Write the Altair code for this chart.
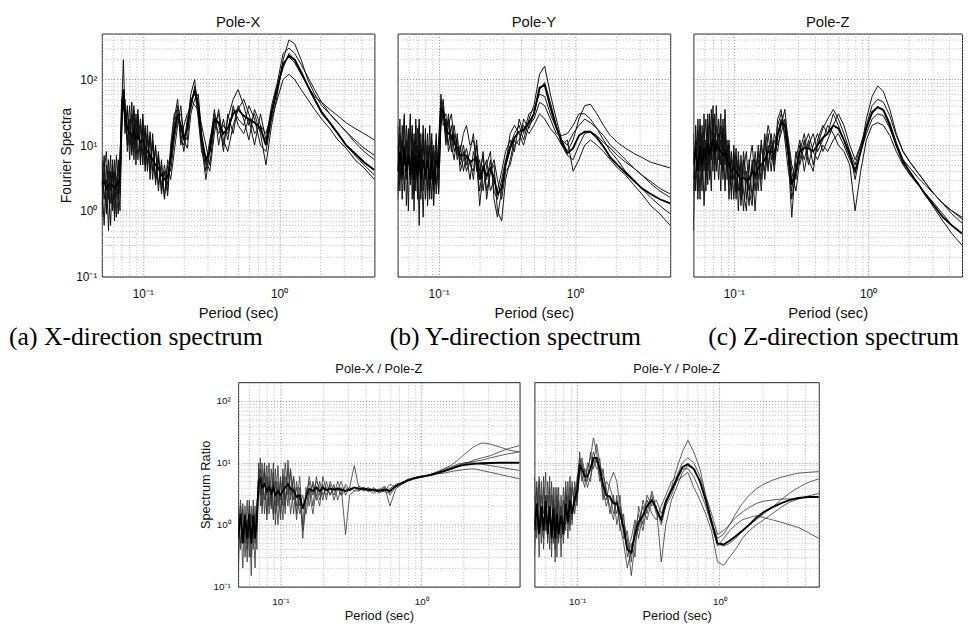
import altair as alt
import pandas as pd

# ---------------- data ----------------
PERIOD = [0.050, 0.052, 0.054, 0.056, 0.058, 0.060, 0.062, 0.064, 0.066, 0.068,
          0.070, 0.072, 0.074, 0.077, 0.080, 0.083, 0.086, 0.089, 0.092, 0.096,
          0.100, 0.104, 0.108, 0.113, 0.118, 0.124, 0.130, 0.137, 0.144, 0.152,
          0.160, 0.170, 0.180, 0.190, 0.200, 0.212, 0.225, 0.240, 0.255, 0.270,
          0.290, 0.310, 0.335, 0.360, 0.390, 0.420, 0.460, 0.500, 0.550, 0.600,
          0.660, 0.730, 0.800, 0.880, 0.970, 1.07, 1.18, 1.30, 1.45, 1.62,
          1.82, 2.05, 2.35, 2.70, 3.10, 3.60, 4.20, 5.00]

# Pole-X Fourier spectra (5 records + mean)
PX_1 = [3, 0.6, 5, 1.5, 7, 1, 4, 0.8, 6, 2.5, 40, 200, 30, 10, 25, 7, 35, 9, 30, 6,
        25, 5, 20, 4, 15, 3, 8, 2, 5, 2.5, 8, 25, 50, 15, 8, 20, 60, 100, 30, 10,
        3, 8, 30, 20, 10, 25, 50, 70, 40, 20, 30, 15, 5, 20, 60, 200, 400, 350, 200, 100,
        60, 40, 30, 22, 16, 11, 8, 6]
PX_2 = [1.2, 5, 0.9, 6, 2, 4, 0.7, 3, 1.5, 8, 20, 60, 15, 40, 6, 30, 10, 25, 6, 20,
        5, 18, 4, 14, 3, 10, 2, 6, 1.5, 5, 3, 8, 20, 40, 12, 9, 30, 50, 60, 15,
        6, 4, 15, 35, 12, 8, 20, 35, 50, 30, 15, 20, 10, 35, 80, 150, 250, 200, 130, 80,
        55, 45, 35, 28, 22, 18, 15, 12]
PX_3 = [6, 1.5, 3, 0.5, 4, 1.2, 6, 2, 0.9, 5, 30, 35, 50, 8, 20, 12, 40, 5, 25, 8,
        30, 6, 15, 3, 12, 2.5, 7, 1.8, 4, 2, 10, 30, 35, 12, 10, 25, 45, 70, 25, 8,
        5, 12, 25, 15, 20, 15, 35, 25, 20, 40, 25, 10, 8, 25, 50, 100, 120, 100, 70, 50,
        35, 25, 18, 12, 9, 6, 4.5, 3]
PX_4 = [0.8, 4, 8, 2, 0.6, 5, 1.5, 7, 2.5, 1, 15, 70, 20, 35, 10, 45, 6, 30, 12, 25,
        7, 20, 5, 16, 4, 9, 2.5, 5, 1.6, 6, 4, 12, 25, 30, 15, 12, 50, 40, 35, 20,
        10, 5, 20, 30, 8, 30, 15, 40, 25, 12, 35, 20, 15, 30, 70, 180, 220, 180, 120, 80,
        50, 30, 22, 15, 10, 7, 5, 3.5]
PX_5 = [2.5, 7, 1, 4, 1.3, 6, 0.9, 3, 5, 1.8, 50, 45, 25, 12, 40, 8, 20, 10, 35, 5,
        18, 4, 12, 6, 10, 3, 6, 2.5, 4, 1.7, 7, 20, 40, 10, 20, 30, 35, 80, 45, 12,
        4, 10, 35, 10, 25, 12, 40, 20, 15, 25, 10, 30, 12, 40, 90, 250, 300, 250, 170, 110,
        70, 45, 30, 22, 16, 12, 9, 7]
PX_MEAN = [2.5, 2.8, 2.2, 2.5, 2.6, 2.4, 2.2, 2.5, 2.6, 3.2, 35, 70, 28, 18, 15, 14, 16, 13, 14, 11,
           12, 9, 8, 7, 6, 5, 4.5, 3.5, 3, 3.2, 6, 16, 30, 20, 12, 18, 45, 65, 40, 12,
           6, 8, 25, 22, 15, 18, 30, 35, 28, 25, 22, 18, 10, 30, 75, 170, 230, 200, 130, 80,
           50, 32, 22, 15, 10, 7.5, 5.5, 4.2]

# Pole-Y Fourier spectra
PY_1 = [2, 15, 3, 25, 4, 18, 2.5, 10, 1, 12, 3, 20, 2, 15, 3, 10, 1.5, 8, 2, 12,
        3, 30, 50, 15, 25, 8, 15, 6, 10, 4, 7, 3, 8, 5, 2, 5, 3, 6, 2, 1.5,
        3, 6, 10, 15, 20, 12, 25, 40, 120, 160, 60, 25, 12, 8, 12, 25, 40, 42, 30, 20,
        14, 11, 9, 7.5, 6.5, 5.5, 5, 4.5]
PY_2 = [10, 2, 20, 5, 12, 1, 25, 3, 15, 2, 18, 4, 10, 0.8, 12, 2, 20, 3, 10, 1.8,
        8, 45, 25, 30, 10, 20, 8, 12, 5, 8, 4, 6, 3, 10, 4, 7, 2, 4, 5, 1,
        0.7, 3, 6, 12, 10, 25, 18, 30, 70, 90, 45, 20, 10, 7, 6, 10, 15, 16, 14, 11,
        9, 7, 5.5, 4.5, 3.5, 2.8, 2.2, 1.8]
PY_3 = [4, 25, 1.5, 10, 3, 15, 4, 20, 2, 25, 1.5, 12, 3, 20, 1.5, 8, 3, 15, 1.2, 8,
        2, 20, 35, 10, 20, 30, 12, 7, 8, 15, 20, 10, 12, 6, 1.2, 4, 6, 2, 3, 2,
        4, 8, 12, 8, 25, 15, 30, 35, 60, 55, 30, 18, 12, 10, 15, 20, 25, 22, 18, 14,
        10, 8, 6, 4.5, 3.5, 2.6, 2, 1.6]
PY_4 = [1.5, 6, 12, 2, 20, 5, 30, 1.5, 12, 3, 10, 0.6, 15, 2, 18, 1.2, 10, 1.5, 8, 2.5,
        12, 60, 20, 25, 8, 12, 20, 8, 6, 10, 5, 8, 15, 4, 6, 2, 5, 8, 1.5, 0.8,
        2, 5, 15, 20, 15, 10, 20, 25, 45, 40, 25, 15, 14, 15, 20, 30, 30, 25, 18, 12,
        8, 6, 4, 3, 2.2, 1.6, 1.2, 0.9]
PY_5 = [20, 3, 8, 30, 1.2, 10, 3, 15, 4, 20, 2.5, 25, 1.5, 10, 4, 15, 2, 12, 3, 15,
        1.8, 25, 40, 12, 30, 10, 6, 15, 4, 6, 9, 5, 4, 12, 3, 8, 1.5, 4, 6, 3,
        1.5, 4, 5, 10, 12, 20, 15, 20, 30, 25, 18, 14, 10, 12, 4, 6, 10, 12, 10, 8,
        6, 4.5, 3.5, 2.5, 1.8, 1.2, 0.9, 0.6]
PY_MEAN = [4, 8, 3.5, 9, 4, 7, 3.5, 8, 3, 7, 3.5, 8, 3, 6, 3.5, 6, 3, 6, 2.5, 6,
           4.5, 35, 32, 18, 15, 14, 11, 9, 7, 7, 7, 5.5, 6, 6.5, 3, 4.5, 3.5, 4.5, 3.2, 1.8,
           2.2, 5, 9, 13, 16, 17, 22, 30, 75, 82, 38, 19, 11, 7.5, 9, 14, 16, 16, 13, 9.5,
           6.5, 5, 3.8, 2.9, 2.2, 1.8, 1.5, 1.3]

# Pole-Z Fourier spectra
PZ_1 = [3, 12, 2, 20, 3, 10, 25, 4, 30, 6, 40, 5, 20, 8, 30, 3, 15, 4, 10, 2,
        6, 1.5, 8, 2, 6, 1.5, 5, 10, 3, 8, 2, 12, 4, 15, 6, 20, 30, 20, 8, 1.5,
        4, 10, 6, 12, 5, 10, 18, 25, 35, 25, 15, 8, 3, 8, 25, 55, 80, 65, 35, 15,
        8, 5.5, 3.8, 2.6, 1.8, 1.3, 0.9, 0.65]
PZ_2 = [15, 2, 25, 4, 15, 1.2, 6, 20, 3, 35, 8, 15, 4, 25, 5, 18, 2, 12, 2.5, 8,
        1.5, 7, 2, 5, 1, 4, 2, 1.2, 6, 2, 10, 4, 15, 6, 12, 8, 20, 35, 10, 4,
        2, 6, 12, 5, 10, 15, 8, 12, 20, 30, 20, 10, 6, 10, 20, 40, 50, 45, 28, 14,
        8, 5.5, 3.8, 2.6, 1.8, 1.3, 1.0, 0.75]
PZ_3 = [0.5, 20, 4, 10, 2, 30, 3, 15, 8, 2, 25, 3, 40, 6, 12, 4, 20, 3, 8, 1.5,
        10, 2, 6, 1.2, 4, 8, 2, 5, 1, 6, 3, 15, 5, 10, 4, 15, 25, 15, 6, 0.8,
        6, 12, 4, 10, 15, 8, 12, 20, 15, 10, 8, 5, 1, 4, 12, 20, 22, 20, 14, 8,
        5, 3.5, 2.5, 1.8, 1.3, 0.9, 0.6, 0.45]
PZ_4 = [8, 3, 15, 1.5, 20, 4, 12, 2.5, 25, 10, 4, 30, 8, 15, 2, 25, 5, 10, 1.5, 6,
        3, 9, 1, 7, 2, 1, 6, 1.5, 8, 3, 12, 3, 10, 4, 15, 10, 15, 25, 12, 5,
        3, 8, 15, 6, 4, 12, 20, 15, 30, 20, 12, 8, 5, 10, 18, 30, 38, 35, 22, 11,
        6, 4, 2.6, 1.7, 1.1, 0.7, 0.45, 0.3]
PZ_5 = [2, 10, 1.5, 25, 5, 12, 2, 30, 5, 15, 20, 6, 12, 3, 20, 8, 35, 5, 12, 3,
        8, 2, 5, 1.5, 8, 3, 1.2, 6, 2, 10, 4, 8, 20, 12, 5, 25, 35, 12, 4, 2,
        8, 5, 10, 15, 8, 6, 10, 8, 12, 15, 10, 6, 4, 8, 15, 25, 30, 28, 18, 10,
        6, 4.5, 3.2, 2.4, 1.8, 1.3, 1.0, 0.8]
PZ_MEAN = [5, 9, 4, 10, 5, 9, 6, 11, 7, 10, 12, 8, 10, 9, 8, 7, 8, 6, 5, 4,
           4.5, 4, 3.5, 3, 3.2, 3, 3, 4, 3.5, 4.5, 5, 6, 8, 8, 7, 14, 22, 20, 8, 2.5,
           4, 8, 9, 9, 8, 10, 13, 15, 20, 18, 12, 7, 4, 8, 18, 32, 38, 34, 20, 10,
           5.5, 3.8, 2.6, 1.7, 1.2, 0.8, 0.6, 0.45]

# Pole-X / Pole-Z spectrum ratio
XZ_1 = [0.3, 1.5, 0.2, 2, 0.4, 1.2, 0.15, 2.5, 0.5, 1.8, 4, 12, 2, 8, 1.5, 6, 2, 10, 1.5, 4,
        1.2, 6, 2, 8, 2.5, 6, 1.5, 4, 0.6, 3, 5, 2, 6, 3, 4.5, 2.5, 5, 3.5, 4, 3,
        3.5, 4, 9, 4, 3.5, 3.8, 3.6, 3.5, 4, 2, 3.8, 4.5, 5, 5.5, 5.8, 6, 6.4, 7, 8, 9,
        11, 14, 18, 21, 20, 18, 16, 15]
XZ_2 = [2, 0.4, 1.8, 0.5, 2.5, 0.3, 1.5, 0.6, 2, 0.4, 8, 3, 10, 1.5, 6, 2, 8, 1.5, 5, 1,
        6, 2, 10, 3, 7, 1.5, 5, 2, 3, 1.5, 3, 4.5, 2.5, 5, 3, 4, 3, 4.5, 2.5, 4,
        0.7, 3, 3.5, 3.5, 4, 3.5, 3.8, 3.6, 3.4, 3.3, 4.2, 4.6, 5.2, 5.6, 5.9, 6.2, 6.5, 6.8, 7.2, 7.8,
        8.5, 9.5, 11, 12, 13, 15, 17, 19]
XZ_3 = [0.8, 2.5, 0.6, 1.5, 0.25, 2, 0.5, 1.2, 0.2, 2.5, 3, 6, 1.5, 7, 3, 10, 1.8, 5, 2, 9,
        1.5, 8, 2.5, 5, 1.5, 4, 2, 6, 1, 4, 2, 5, 3, 2, 6, 3.5, 4, 3, 5, 3.5,
        4, 3.5, 4, 3.8, 3.6, 4, 3.5, 3.8, 3.5, 4.5, 4, 4.8, 5.1, 5.4, 5.7, 6.1, 6.3, 6.6, 6.8, 7.2,
        7.5, 7.8, 8, 7.5, 7, 6.5, 6, 5.5]
XZ_4 = [1.5, 0.5, 2.2, 0.3, 1.2, 0.6, 2, 0.4, 1.5, 0.8, 10, 2, 6, 2.5, 9, 1.5, 4, 1.2, 8, 2,
        5, 1.2, 6, 2, 8, 2.5, 4, 1.5, 2, 2.5, 6, 3, 5, 4, 2.5, 5, 3, 4, 3.5, 5,
        3, 4, 3.5, 4.2, 3.8, 3.4, 4, 3.2, 3.6, 3.8, 4.5, 4.8, 5.3, 5.6, 6, 6.2, 6.5, 7, 7.5, 8.2,
        9, 10, 10.5, 11, 12, 13, 14, 15]
XZ_5 = [0.15, 2, 0.8, 1.5, 0.5, 2.5, 0.3, 1.8, 0.6, 1.2, 5, 8, 3, 10, 1.2, 5, 2.5, 7, 1, 5,
        2.5, 5, 1.5, 11, 3, 6, 1.2, 3, 0.8, 2, 3.5, 1.5, 4, 2.5, 4, 3, 4.5, 2.5, 4, 3,
        4.5, 3.5, 4, 3.5, 4, 3.6, 3.2, 3.6, 4.2, 3, 4.2, 4.6, 5.4, 5.7, 6, 6.1, 6.6, 7.2, 7.8, 8.5,
        9.5, 10, 10, 9.5, 9, 8.5, 8, 7.5]
XZ_MEAN = [0.6, 1.5, 0.5, 1.4, 0.6, 1.5, 0.5, 1.4, 0.6, 1.3, 5, 5.5, 4, 4.5, 3.5, 4, 3.2, 4, 3, 3.5,
           3, 3.5, 4, 4.5, 3.8, 3.5, 2.8, 3, 1.8, 2.8, 3.8, 3.5, 4, 3.5, 4, 3.6, 3.8, 3.7, 3.8, 3.7,
           3.5, 3.7, 4, 3.8, 3.8, 3.7, 3.6, 3.5, 3.7, 3.5, 4.2, 4.7, 5.2, 5.6, 5.9, 6.1, 6.4, 6.8, 7.3, 8,
           8.8, 9.3, 9.6, 9.8, 9.9, 10, 10, 10]

# Pole-Y / Pole-Z spectrum ratio
YZ_1 = [0.5, 4, 0.8, 5, 0.4, 3, 0.6, 6, 0.3, 3, 0.8, 2, 0.5, 3, 0.7, 5, 1, 4, 1.5, 3,
        5, 12, 8, 5, 8, 12, 25, 15, 6, 4, 2, 3, 1.5, 2.5, 1, 0.5, 0.2, 0.4, 0.8, 1.5,
        0.8, 2, 3, 1.5, 1.2, 2.5, 4, 8, 15, 23, 15, 8, 3, 1.2, 0.6, 0.7, 1, 1.5, 2.2, 3,
        3.8, 4.5, 5.2, 5.8, 6.3, 6.8, 7, 7.2]
YZ_2 = [3, 0.6, 6, 1, 4, 0.8, 5, 1.2, 3, 0.5, 4, 0.3, 2.5, 0.6, 4, 1, 3, 0.8, 5, 1.5,
        3, 6, 12, 7, 4, 6, 10, 20, 10, 6, 4, 1.5, 3, 1, 2, 1.2, 0.6, 0.15, 0.5, 1,
        2, 1.2, 2.5, 2, 0.25, 1, 2.5, 4, 7, 9, 8, 5, 2.5, 1.2, 0.5, 0.45, 0.5, 0.6, 0.8, 1,
        1.2, 1.5, 1.9, 2.5, 3.2, 4, 4.8, 5.5]
YZ_3 = [1, 5, 0.3, 3, 1.5, 7, 0.5, 2, 0.8, 4, 0.4, 3, 0.8, 2, 0.5, 3, 1.2, 6, 1, 4,
        2, 15, 6, 4, 10, 8, 15, 10, 12, 3, 2.5, 5, 7, 5, 2, 0.8, 0.4, 0.6, 1.2, 0.6,
        1.5, 2.5, 1.5, 1.2, 2, 3, 5, 6, 10, 12, 10, 6, 3, 1.5, 0.7, 0.8, 1, 1.3, 1.6, 1.9,
        2.2, 2.4, 2.5, 2.6, 2.6, 2.7, 2.8, 2.8]
YZ_4 = [6, 0.8, 3, 0.5, 6, 1, 3, 0.4, 5, 0.8, 2, 0.6, 4, 0.3, 2.5, 0.8, 5, 1, 4, 2,
        6, 8, 10, 6, 5, 15, 8, 12, 5, 8, 3, 2, 1.2, 3, 0.8, 1.5, 0.3, 0.5, 0.3, 2,
        1, 3, 2, 2.5, 1.5, 2.5, 3.5, 5, 8, 8, 6, 3.5, 2, 1, 0.45, 0.6, 0.8, 1, 1.2, 1.3,
        1.4, 1.3, 1.2, 1.1, 1, 0.9, 0.75, 0.6]
YZ_5 = [0.3, 2, 5, 1, 0.6, 3, 0.8, 4, 0.5, 2.5, 0.25, 4, 0.6, 2, 0.9, 4, 0.6, 3, 1.2, 5,
        2.5, 10, 5, 8, 6, 5, 12, 8, 8, 2.5, 5, 4, 2.5, 1.5, 3, 0.6, 0.8, 0.25, 1, 0.8,
        2.5, 1.5, 3.5, 1.8, 1, 2, 3, 5, 6, 7, 4, 2.5, 1.5, 0.8, 0.25, 0.22, 0.3, 0.4, 0.6, 0.8,
        1, 1.2, 1.5, 1.9, 2.3, 2.6, 2.9, 3.2]
YZ_MEAN = [0.8, 2.2, 0.7, 2, 0.8, 2.4, 0.7, 2, 0.6, 1.8, 0.6, 1.5, 0.7, 1.4, 0.7, 2.2, 1.1, 2.5, 1.5, 2.5,
           3.5, 9, 8, 6, 6, 8, 12, 12, 8, 4.5, 3, 2.8, 2.2, 2.2, 1.5, 0.9, 0.4, 0.35, 0.7, 1.1,
           1.4, 2, 2.5, 1.8, 1.2, 2.3, 3.6, 5.5, 8.5, 9.5, 8, 5, 2.5, 1.1, 0.5, 0.48, 0.55, 0.65, 0.8, 1,
           1.3, 1.6, 1.9, 2.2, 2.5, 2.7, 2.8, 2.8]

# axis tick / grid positions and tick labels (top edge is drawn by the frame)
XGRID = [0.05, 0.06, 0.07, 0.08, 0.09, 0.1, 0.2, 0.3, 0.4, 0.5, 0.6, 0.7, 0.8, 0.9,
         1, 2, 3, 4, 5]
YGRID_TOP = [0.1, 0.2, 0.3, 0.4, 0.5, 0.6, 0.7, 0.8, 0.9, 1, 2, 3, 4, 5, 6, 7, 8, 9,
             10, 20, 30, 40, 50, 60, 70, 80, 90, 100, 200, 300, 400]
YGRID_BOT = [0.1, 0.2, 0.3, 0.4, 0.5, 0.6, 0.7, 0.8, 0.9, 1, 2, 3, 4, 5, 6, 7, 8, 9,
             10, 20, 30, 40, 50, 60, 70, 80, 90, 100]
X_TICK_TEXT = [(0.1, "10⁻¹"), (1, "10⁰")]
Y_TICK_TEXT = [(0.1, "10⁻¹"), (1, "10⁰"), (10, "10¹"), (100, "10²")]
MAJORS = [0.1, 1, 10, 100]


def label_expr(pairs):
    expr = "''"
    for v, t in reversed(pairs):
        expr = f"datum.value == {v} ? '{t}' : ({expr})"
    return expr


GRID_COLOR = {"condition": {"test": "indexof(" + str(MAJORS) + ", datum.value) >= 0",
                            "value": "#6a6a6a"},
              "value": "#a8a8a8"}


def make_panel(title, runs, mean, ymax, ygrid, width, height, top_row,
               ytitle=None, ytitle_x=0, caption=None, cap_x=0, ghost_left=0):
    rows = []
    for k, vals in enumerate(runs):
        for p, v in zip(PERIOD, vals):
            rows.append({"period": p, "value": v, "run": f"r{k + 1}"})
    df = pd.DataFrame(rows)
    mdf = pd.DataFrame({"period": PERIOD, "value": mean})

    lab_fs = 12 if top_row else 10
    xt_fs = 15 if top_row else 13
    grid_kw = dict(grid=True, gridDash=[1, 2], gridColor=GRID_COLOR, gridWidth=0.8,
                   ticks=False, tickSize=0, domain=False)

    xaxis = alt.Axis(values=XGRID, labelExpr=label_expr(X_TICK_TEXT), labelOverlap=False,
                     labelFlush=False, labelFontSize=lab_fs,
                     labelPadding=12 if top_row else 10,
                     title="Period (sec)", titleFontSize=xt_fs,
                     titleY=29.5 if top_row else 23.4, **grid_kw)
    if ytitle:
        yaxis = alt.Axis(values=ygrid, labelExpr=label_expr(Y_TICK_TEXT), labelOverlap=False,
                         labelFlush=False, labelFontSize=lab_fs,
                         labelPadding=5 if top_row else 8,
                         title=ytitle, titleFontSize=14 if top_row else 13,
                         titleX=ytitle_x, **grid_kw)
    else:
        yaxis = alt.Axis(values=ygrid, labels=False, title=None, **grid_kw)

    x = alt.X("period:Q", scale=alt.Scale(type="log", domain=[0.05, 5]), axis=xaxis)
    y = alt.Y("value:Q", scale=alt.Scale(type="log", domain=[0.1, ymax]), axis=yaxis)

    thin = alt.Chart(df).mark_line(color="#111111" if top_row else "#333333",
                                   strokeWidth=1.0 if top_row else 0.8, clip=True).encode(
        x=x, y=y, detail="run:N")
    thick = alt.Chart(mdf).mark_line(color="black", strokeWidth=1.9, clip=True).encode(
        x=x, y=y)
    layers = [thin, thick]
    if caption:
        cap = alt.Chart(alt.Data(values=[{"t": caption}])).mark_text(
            align="left", baseline="alphabetic", font="Liberation Serif", fontSize=26,
            color="black").encode(x=alt.value(cap_x), y=alt.value(315), text="t:N")
        layers.append(cap)
    if ghost_left:
        ghost = alt.Chart(alt.Data(values=[{"a": 1}])).mark_rule(
            strokeOpacity=0).encode(x=alt.value(-ghost_left), x2=alt.value(0),
                                    y=alt.value(120))
        layers.append(ghost)
    return alt.layer(*layers).properties(
        width=width, height=height,
        title=alt.TitleParams(title, fontSize=15 if top_row else 13, fontWeight="normal",
                              frame="group", offset=4 if top_row else 6, color="#111"))


p1 = make_panel("Pole-X", [PX_1, PX_2, PX_3, PX_4, PX_5], PX_MEAN, 500, YGRID_TOP, 276, 246,
                True, ytitle="Fourier Spectra", ytitle_x=-29,
                caption="(a) X-direction spectrum", cap_x=-94)
p2 = make_panel("Pole-Y", [PY_1, PY_2, PY_3, PY_4, PY_5], PY_MEAN, 500, YGRID_TOP, 276, 246,
                True, caption="(b) Y-direction spectrum", cap_x=-8)
p3 = make_panel("Pole-Z", [PZ_1, PZ_2, PZ_3, PZ_4, PZ_5], PZ_MEAN, 500, YGRID_TOP, 272, 246,
                True, caption="(c) Z-direction spectrum", cap_x=15, ghost_left=8)
p4 = make_panel("Pole-X / Pole-Z", [XZ_1, XZ_2, XZ_3, XZ_4, XZ_5], XZ_MEAN, 200, YGRID_BOT,
                285, 207, False, ytitle="Spectrum Ratio", ytitle_x=-26)
p5 = make_panel("Pole-Y / Pole-Z", [YZ_1, YZ_2, YZ_3, YZ_4, YZ_5], YZ_MEAN, 200, YGRID_BOT,
                288, 207, False)

spacer = alt.Chart(alt.Data(values=[{"a": 1}])).mark_point(opacity=0).encode(
    x=alt.value(10), y=alt.value(10)).properties(
    width=84, height=100, view=alt.ViewBackground(stroke="transparent"))

top = alt.hconcat(p1, p2, p3, spacing=13.5)
bottom = alt.hconcat(spacer, p4, p5, spacing=13)

chart = alt.vconcat(top, bottom, spacing=12).properties(
    padding={"left": 0, "top": 2, "right": 0, "bottom": 0}
).configure(font="Liberation Sans").configure_view(
    stroke="#222", strokeWidth=1
).configure_axis(labelColor="#111", titleColor="#111", titleFontWeight="normal")

chart.save("out.html", embed_options={"renderer": "svg", "actions": False})
